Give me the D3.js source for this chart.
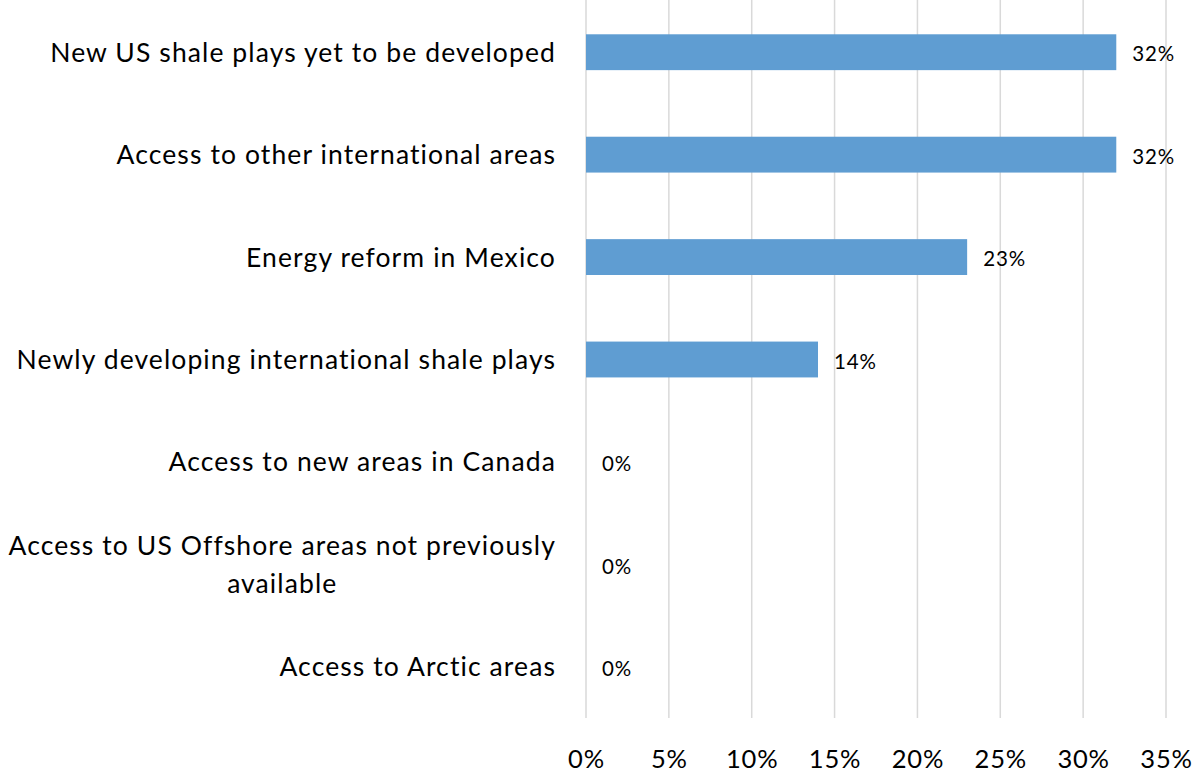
<!DOCTYPE html>
<html>
<head>
<meta charset="utf-8">
<script src="https://cdn.jsdelivr.net/npm/d3@7"></script>
<style>
  html, body { margin: 0; padding: 0; background: #ffffff; }
  svg { display: block; }
  text { font-family: Lato, "Open Sans", sans-serif; fill: #000; }
</style>
</head>
<body>
<svg id="chart" width="1195" height="774"></svg>
<script>
// Survey responses: share of respondents naming each opportunity
const categories = [
  "New US shale plays yet to be developed",
  "Access to other international areas",
  "Energy reform in Mexico",
  "Newly developing international shale plays",
  "Access to new areas in Canada",
  "Access to US Offshore areas not previously available",
  "Access to Arctic areas"
];
const values = [32, 32, 23, 14, 0, 0, 0];
const tickValues = [0, 5, 10, 15, 20, 25, 30, 35];

const svg = d3.select("#chart");
const margin = { left: 586, right: 29, top: 1, bottom: 56 };
const width = 1195, height = 774;

const x = d3.scaleLinear()
  .domain([0, 35])
  .range([margin.left, width - margin.right]);

const y = d3.scaleBand()
  .domain(categories)
  .range([margin.top, height - margin.bottom])
  .paddingInner(0.65)
  .paddingOuter(0.325);

// vertical gridlines
svg.append("g")
  .selectAll("line")
  .data(tickValues)
  .join("line")
  .attr("x1", d => x(d)).attr("x2", d => x(d))
  .attr("y1", margin.top - 1).attr("y2", height - margin.bottom)
  .attr("stroke", "#d9d9d9")
  .attr("stroke-width", 1.5);

// x axis tick labels
const xAxis = d3.axisBottom(x)
  .tickValues(tickValues)
  .tickFormat(d => d + "%")
  .tickSize(0)
  .tickPadding(0);
const gx = svg.append("g")
  .attr("transform", `translate(0,${height - 6})`)
  .call(xAxis);
gx.select(".domain").remove();
gx.selectAll("text")
  .attr("dy", 0)
  .attr("y", 0)
  .style("font-size", "25.5px")
  .style("letter-spacing", "0.8px")
  .style("font-family", "Lato, sans-serif")
  .attr("fill", "#000");

// bars
svg.append("g")
  .selectAll("rect")
  .data(values)
  .join("rect")
  .attr("x", x(0))
  .attr("y", (d, i) => y(categories[i]))
  .attr("width", d => x(d) - x(0))
  .attr("height", y.bandwidth())
  .attr("fill", "#5f9dd2");

// value labels
svg.append("g")
  .selectAll("text")
  .data(values)
  .join("text")
  .attr("x", d => x(d) + 16)
  .attr("y", (d, i) => y(categories[i]) + y.bandwidth() / 2)
  .attr("dy", "0.45em")
  .style("font-size", "20.5px")
  .style("letter-spacing", "0.9px")
  .text(d => d + "%");

// category labels, wrapped when too long; lines centred on each other
const labelRight = 556;
const maxWidth = 600;
const lineHeight = 38;
const labelFont = "26.5px";
const labelSpacing = "1.1px";
const gl = svg.append("g");
categories.forEach((c, i) => {
  const t = gl.append("text")
    .style("font-size", labelFont)
    .style("letter-spacing", labelSpacing)
    .attr("text-anchor", "middle");
  const words = c.split(" ");
  const lines = [];
  let cur = [];
  const probe = gl.append("text")
    .style("font-size", labelFont)
    .style("letter-spacing", labelSpacing);
  words.forEach(w => {
    const trial = cur.concat(w).join(" ");
    probe.text(trial);
    if (probe.node().getComputedTextLength() > maxWidth && cur.length) {
      lines.push(cur.join(" "));
      cur = [w];
    } else {
      cur.push(w);
    }
  });
  lines.push(cur.join(" "));
  probe.text(lines[0]);
  const w0 = probe.node().getComputedTextLength();
  probe.remove();
  const cx = labelRight - w0 / 2;
  const cy = y(c) + y.bandwidth() / 2;
  const startY = cy - (lines.length - 1) * lineHeight / 2;
  lines.forEach((ln, k) => {
    t.append("tspan")
      .attr("x", cx)
      .attr("y", startY + k * lineHeight)
      .attr("dy", "0.36em")
      .text(ln);
  });
});
</script>
</body>
</html>
